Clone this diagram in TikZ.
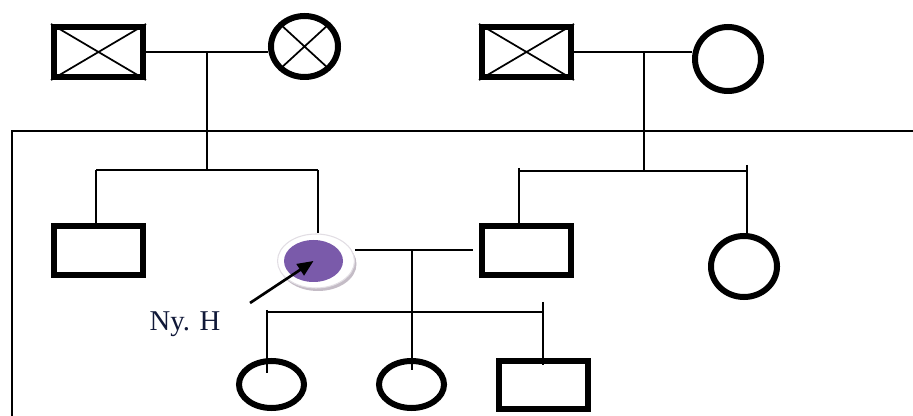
\documentclass[tikz,border=0pt]{standalone}
\usepackage{fontspec}
\setmainfont{Liberation Serif}
\usetikzlibrary{shapes.geometric,arrows.meta}
\definecolor{affected}{HTML}{7A5AAA}
\definecolor{ringshadow}{HTML}{C4BCC6}
\definecolor{ringedge}{HTML}{E2DEE4}
\definecolor{labelnavy}{HTML}{101838}
\tikzset{
  male/.style={draw, rectangle, line width=4.5pt, inner sep=0pt, minimum width=66.75pt, minimum height=37.5pt},
  female/.style={draw, ellipse, line width=4.5pt, inner sep=0pt},
  link/.style={line width=1.3pt},
  framel/.style={line width=1.5pt},
  cross/.style={line width=1.3pt},
}
\begin{document}
\begin{tikzpicture}[x=0.75pt,y=-0.75pt]
\useasboundingbox (0,0) rectangle (913,416);
% frame
\coordinate (fl) at (12,131);
\coordinate (fr) at (913,131);
\coordinate (fb) at (12,416);
\draw[framel] (fr) -- (fl) -- (fb);

% generation I
\node[male] (b1) at (98.5,52) {};
\draw[cross] (b1.north west) -- (b1.south east) (b1.south west) -- (b1.north east);
\node[female, minimum width=50.25pt, minimum height=45.75pt] (f1) at (304.5,46.5) {};
\draw[cross] (f1.north west) -- (f1.south east) (f1.south west) -- (f1.north east);
\node[male] (b2) at (526.5,52) {};
\draw[cross] (b2.north west) -- (b2.south east) (b2.south west) -- (b2.north east);
\node[female, minimum width=49.5pt, minimum height=48pt] (f2) at (728,59) {};

% generation II
\node[male, minimum height=36.75pt] (b3) at (98.5,250.5) {};
\node[male, minimum height=36.75pt] (b4) at (526.5,250.5) {};
\node[female, minimum width=49.5pt, minimum height=45.75pt] (f3) at (744,266.5) {};
% proband
\fill[ringshadow] (318,264) ellipse [x radius=38.5, y radius=27];
\fill[white] (316,261) ellipse [x radius=38.5, y radius=27];
\draw[ringedge, line width=0.8pt] (316,261) ellipse [x radius=38.5, y radius=27];
\node[ellipse, fill=affected, inner sep=0pt, minimum width=44.25pt, minimum height=31.5pt] (p) at (313.5,261) {};
\coordinate (pn) at (318,233);
\coordinate (pe) at (355,250);

% generation III
\node[female, minimum width=48.75pt, minimum height=35.25pt] (c1) at (271.5,384.5) {};
\node[female, minimum width=48.75pt, minimum height=35.25pt] (c2) at (411.5,384.5) {};
\node[male, minimum height=36pt] (c3) at (543.5,385) {};

% left family of generation I
\coordinate (m1) at (207,52);
\coordinate (s1) at (207,170);
\coordinate (s1l) at (96,170);
\coordinate (s1r) at (318,170);
\draw[link] (b1.east) -- (b1.east -| f1.west);
\draw[link] (m1) -- (s1);
\draw[link] (s1l) -- (s1r);
\draw[link] (s1l) -- (s1l |- b3.north);
\draw[link] (s1r) -- (pn);

% right family of generation I
\coordinate (m2) at (644,52);
\coordinate (s2) at (644,171);
\coordinate (s2l) at (519,171);
\coordinate (s2r) at (747,171);
\coordinate (s2rt) at (747,165);
\coordinate (s2lt) at (519,168);
\draw[link] (b2.east) -- (b2.east -| f2.west);
\draw[link] (m2) -- (s2);
\draw[link] (s2l) -- (s2r);
\draw[link] (s2lt) -- (s2lt |- b4.north);
\draw[link] (s2rt) -- (s2rt |- f3.north);

% generation II couple
\coordinate (m3) at (412,250);
\coordinate (b4w) at (473,250);
\coordinate (s3) at (412,370);
\draw[link] (pe) -- (b4w);
\draw[link] (m3) -- (s3);
\coordinate (s3l) at (267,312);
\coordinate (s3r) at (543,312);
\coordinate (s3lt) at (267,310);
\coordinate (s3rt) at (543,302);
\draw[link] (s3l) -- (s3r);
\draw[link] (s3lt) -- (267,373);
\draw[link] (s3rt) -- (543,365);

% label and arrow
\node[text=labelnavy, font=\fontsize{21.5pt}{24pt}\selectfont, anchor=base] (lab) at (185,330) {Ny. H};
\coordinate (at) at (250,303);
\draw[line width=2pt, -{Triangle[length=12pt,width=10pt]}] (at) -- (p.center);
\end{tikzpicture}
\end{document}
